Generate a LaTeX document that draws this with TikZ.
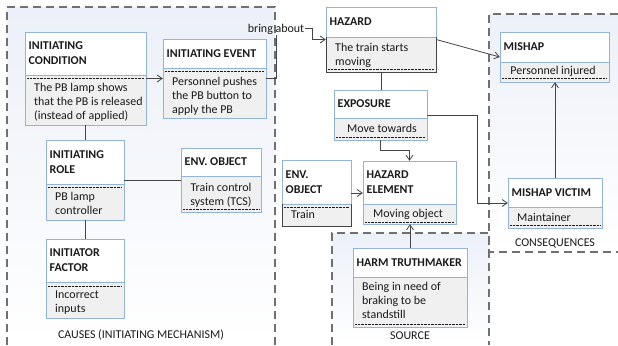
\documentclass[tikz,border=0pt]{standalone}
\usepackage{fontspec}
\setmainfont{Carlito}
\usetikzlibrary{arrows.meta,fit,calc}
\definecolor{boxline}{HTML}{95B3D7}
\definecolor{bodyfill}{HTML}{F0F0F0}
\definecolor{dashcol}{HTML}{707070}
\definecolor{conncol}{HTML}{454545}
\definecolor{regtop}{HTML}{ECF0F8}
\definecolor{txtcol}{HTML}{1A1A1A}
\tikzset{
  hdr/.style={inner sep=0pt, align=left, font=\fontsize{12}{15}\selectfont\bfseries, text=txtcol},
  bodytext/.style={inner sep=0pt, align=left, font=\fontsize{12}{14}\selectfont, text=txtcol},
  bodyctext/.style={bodytext, align=center},
  lbl/.style={inner sep=0pt, font=\fontsize{12}{14}\selectfont, text=txtcol},
  boxborder/.style={draw=boxline, line width=0.8bp},
  darkborder/.style={draw=conncol, line width=0.9bp},
  dotline/.style={draw=txtcol, line width=0.7bp, dash pattern=on 0.7bp off 0.7bp},
  region/.style={draw=dashcol, line width=1.2bp, dash pattern=on 8bp off 5bp},
  regfill/.style={top color=regtop, bottom color=white},
  conn/.style={draw=conncol, line width=0.8bp},
  arr/.style={conn, -{Straight Barb[length=5bp, width=7bp, line width=0.8bp]}},
}
% name, x1, y1, x2, ysep, y2, header, dotted y
\newcommand\ubox[8]{%
  \fill[bodyfill] (#2,#5) rectangle (#4,#6);
  \fill[white] (#2,#3) rectangle (#4,#5);
  \draw[boxborder] (#2,#3) rectangle (#4,#6);
  \draw[boxborder] (#2,#5) -- (#4,#5);
  \draw[dotline] (#2+2,#8) -- (#4-2,#8);
  \node[hdr, anchor=west] (#1-h) at (#2+3.5,{(#3+#5)/2}) {#7};
  \node[fit={(#2,#3)(#4,#6)}, inner sep=0pt] (#1) {};
}
\begin{document}
\begin{tikzpicture}[x=1bp, y=-1bp]
\useasboundingbox (0,0) rectangle (618,345);
\fill[white] (0,0) rectangle (618,345);
% regions background
\fill[regfill] (7,7) rectangle (275,345);
\fill[regfill] (489,14) rectangle (618,252);
\fill[regfill] (332,233) rectangle (489,345);
% region borders
\draw[region] (7,345) -- (7,7) -- (275,7) -- (275,345);
\draw[region] (618,14) -- (489,14) -- (489,252) -- (618,252);
\draw[region] (332,345) -- (332,233) -- (489,233) -- (489,345);

% boxes (body text: anchor base = baseline of last line)
\ubox{icond}{25}{32}{146}{75}{125}{INITIATING\\CONDITION}{78}
\node[bodytext, anchor=base west] (icond-t) at (34,119) {The PB lamp shows\\that the PB is released\\(instead of applied)};

\ubox{ievent}{163}{39}{266}{68}{118}{INITIATING EVENT}{71}
\node[bodytext, anchor=base west] (ievent-t) at (172,113) {Personnel pushes\\the PB button to\\apply the PB};

\ubox{irole}{46}{140}{124}{184}{220}{INITIATING\\ROLE}{187}
\node[bodytext, anchor=base west] (irole-t) at (55,214) {PB lamp\\controller};

\ubox{envobja}{181}{148}{261}{176}{212}{ENV. OBJECT}{209}
\node[bodyctext, anchor=base] (envobja-t) at (221,205) {Train control\\system (TCS)};

\ubox{ifactor}{46}{239}{124}{282}{318}{INITIATOR\\FACTOR}{286}
\node[bodytext, anchor=base west] (ifactor-t) at (55,312) {Incorrect\\inputs};

\ubox{hazard}{326}{7}{436}{37}{72}{HAZARD}{69}
\draw[darkborder] (326,37) -- (326,72) -- (436,72) -- (436,37);
\node[bodytext, anchor=base west] (hazard-t) at (335,65) {The train starts\\moving};

\ubox{exposure}{334}{90}{427}{118}{140}{EXPOSURE}{137}
\node[bodyctext, anchor=base] (exposure-t) at (382,132) {Move towards};

\ubox{mishap}{500}{32}{609}{62}{82}{MISHAP}{78}
\node[bodyctext, anchor=base] (mishap-t) at (553,74) {Personnel injured};

\ubox{envobjb}{282}{160}{351}{204}{226}{ENV.\\OBJECT}{207}
\draw[darkborder] (282,204) -- (282,226) -- (351,226) -- (351,204);
\node[bodytext, anchor=base west] (envobjb-t) at (291,218) {Train};

\ubox{hazelem}{363}{161}{456}{204}{224}{HAZARD\\ELEMENT}{222}
\node[bodyctext, anchor=base] (hazelem-t) at (408,217) {Moving object};

\ubox{victim}{508}{178}{602}{207}{228}{MISHAP VICTIM}{225}
\node[bodytext, anchor=base west] (victim-t) at (517,221) {Maintainer};

\ubox{harm}{353}{248}{467}{277}{327}{HARM TRUTHMAKER}{324}
\node[bodytext, anchor=base west] (harm-t) at (362,318) {Being in need of\\braking to be\\standstill};

% region labels
\node[lbl, anchor=base] (causes) at (141,338) {CAUSES (INITIATING MECHANISM)};
\node[lbl, anchor=base] (source) at (410,339) {SOURCE};
\node[lbl, anchor=base] (conseq) at (555,246) {CONSEQUENCES};

% connectors
\draw[arr] (icond) -- (ievent);
\node[lbl, inner sep=1bp, anchor=base] (ba) at (276,32) {bring about};
\draw[conn] (ievent.east) -| (ba.south);
\draw[arr] (ba.east) -- ++(7,0) |- (hazard.west);
\draw[arr] (hazard.east) -- (mishap.west);
\draw[conn] (hazard.south) -- (hazard.south |- exposure.north);
\draw[arr] (exposure.south) -- ++(0,10) -| (hazelem.north);
\draw[arr] (exposure.east) -- ++(50,0) |- (victim.west);
\draw[arr] (envobjb.east) -- (envobjb.east -| hazelem.west);
\draw[arr] (harm.north) -- (harm.north |- hazelem.south);
\draw[arr] (victim.north) -- (victim.north |- mishap.south);
\draw[conn] (irole.north) -- (irole.north |- icond.south);
\draw[conn] (irole.east) -- (irole.east -| envobja.west);
\draw[conn] (irole.south) -- (irole.south |- ifactor.north);
\end{tikzpicture}
\end{document}
